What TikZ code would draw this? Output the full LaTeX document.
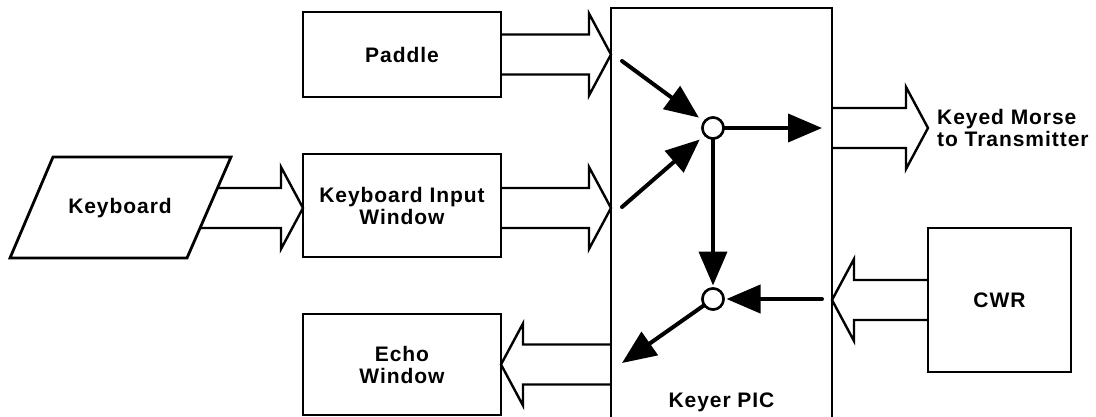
\documentclass[tikz,border=0pt]{standalone}
\usepackage{fontspec}
\setmainfont{Liberation Sans}[LetterSpace=4.5]
\usetikzlibrary{arrows.meta,calc}
\tikzset{
  box/.style={draw,line width=2.8pt,rectangle,outer sep=0pt,inner sep=0pt,align=center,font=\bfseries\fontsize{21}{22}\selectfont},
  lbl/.style={inner sep=0pt,align=center,font=\bfseries\fontsize{21}{22}\selectfont},
  fat/.style={draw,line width=2.4pt,line join=miter},
  sig/.style={line width=4pt,line cap=round,-{Triangle[length=34pt,width=28pt]}},
  junc/.style={circle,draw,line width=2.5pt,fill=white,minimum size=21pt,inner sep=0pt,outer sep=0pt},
}
\newcommand\fatarrow[3][1]{%
  \path[fat] let \p1=(#2), \p2=(#3) in
    ({\x1},{\y1+20pt}) -- ({\x2-(#1)*22pt},{\y1+20pt}) -- ({\x2-(#1)*22pt},{\y1+41pt}) --
    ({\x2},{\y1}) -- ({\x2-(#1)*22pt},{\y1-41pt}) -- ({\x2-(#1)*22pt},{\y1-20pt}) -- ({\x1},{\y1-20pt});}
\begin{document}
\begin{tikzpicture}[x=1pt,y=-1pt]
\useasboundingbox (0,0) rectangle (1096,416);
% main boxes
\node[box,minimum width=221pt,minimum height=412pt] (keyer) at (721.5,214) {};
\node[lbl] (keyerlbl) at (721.5,402) {Keyer PIC};
\node[box,minimum width=198pt,minimum height=85pt] (paddle) at (402,54.5) {Paddle};
\node[box,minimum width=198pt,minimum height=103pt] (kiw) at (402,205.5) {Keyboard Input\\Window};
\node[box,minimum width=198pt,minimum height=101pt] (echo) at (402,364.5) {Echo\\Window};
\node[box,minimum width=143pt,minimum height=144pt] (cwr) at (999.5,300) {CWR};
% keyboard (parallelogram)
\coordinate (kbTL) at (53,157);
\coordinate (kbTR) at (231,157);
\coordinate (kbBR) at (187,258);
\coordinate (kbBL) at (10,258);
\coordinate (kbin) at (190,208);
\coordinate (kiwin) at (kiw.west |- kbin);
\fatarrow{kbin}{kiwin}
\path[draw,line width=2.8pt,fill=white,line join=miter] (kbTL) -- (kbTR) -- (kbBR) -- (kbBL) -- cycle;
\node[lbl] (kb) at (120,208) {Keyboard};
% fat arrows
\coordinate (paddletip) at (keyer.west |- paddle.east);
\fatarrow{paddle.east}{paddletip}
\coordinate (kiwout) at (kiw.east |- kb);
\coordinate (kiwtip) at (keyer.west |- kb);
\fatarrow{kiwout}{kiwtip}
\coordinate (echoout) at (keyer.west |- echo.east);
\fatarrow[-1]{echoout}{echo.east}
\coordinate (cwrtip) at (keyer.east |- cwr.west);
\fatarrow[-1]{cwr.west}{cwrtip}
\coordinate (outtip) at (928,128);
\coordinate (outstart) at (keyer.east |- outtip);
\fatarrow{outstart}{outtip}
\node[lbl,anchor=west,align=left] (txlbl) at (937,128) {Keyed Morse\\to Transmitter};
% junctions
\node[junc] (c1) at (713,128) {};
\node[junc] (c2) at (713,299) {};
% inner signal arrows
\coordinate (a1) at (622,61);
\coordinate (a2) at (622,207);
\coordinate (a3) at (822,128);
\coordinate (a5) at (822,299);
\coordinate (a6) at (622,363);
\draw[sig,shorten >=7pt] (a1) -- (c1);
\draw[sig,shorten >=7pt] (a2) -- (c1);
\draw[sig] (c1.east) -- (a3);
\draw[sig,shorten >=3pt] (c1.south) -- (c2.north);
\draw[sig,shorten >=3pt] (a5) -- (c2.east);
\draw[sig] (c2) -- (a6);
\node[junc] at (c1) {};
\node[junc] at (c2) {};
\end{tikzpicture}
\end{document}
